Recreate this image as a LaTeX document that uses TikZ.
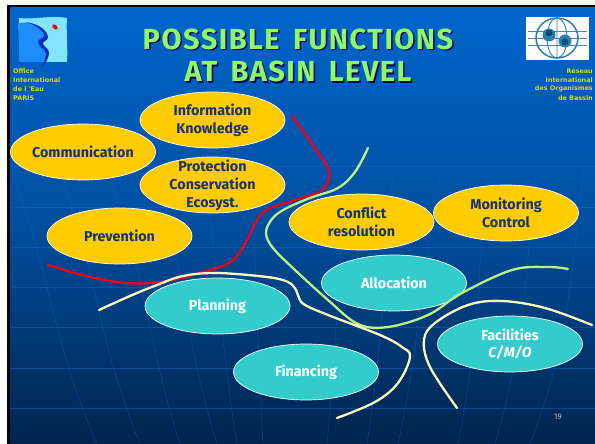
\documentclass[tikz,border=0pt]{standalone}
\usepackage{fontspec}
\setmainfont{Fira Sans}
\newfontfamily\smallfont{DejaVu Sans}
\newfontfamily\titlefont[LetterSpace=5,WordSpace=1.6]{Fira Sans}
\usetikzlibrary{shapes.geometric}
\definecolor{bgtop}{RGB}{0,102,204}
\definecolor{bgbot}{RGB}{0,36,76}
\definecolor{bgmid}{RGB}{0,78,158}
\definecolor{ovalyellow}{RGB}{255,204,0}
\definecolor{ovalteal}{RGB}{51,204,204}
\definecolor{inkblue}{RGB}{22,52,112}
\definecolor{titlegreen}{RGB}{144,248,104}
\definecolor{smallyellow}{RGB}{222,222,0}
\definecolor{curvered}{RGB}{245,0,20}
\definecolor{curvegreen}{RGB}{190,240,130}
\definecolor{curvecream}{RGB}{255,250,190}
\definecolor{gridblue}{RGB}{20,100,205}
\definecolor{logolight}{RGB}{130,228,255}
\definecolor{logomid}{RGB}{30,140,250}
\definecolor{logodark}{RGB}{10,50,190}
\definecolor{globeteal}{RGB}{40,130,170}
\definecolor{globedark}{RGB}{20,70,130}
\tikzset{
  oval/.style={ellipse,draw=white,line width=.7pt,minimum width=145pt,minimum height=56pt,inner sep=-15pt,align=center,font=\bfseries\fontsize{14.3}{17.8}\selectfont},
  yoval/.style={oval,fill=ovalyellow,text=inkblue},
  toval/.style={oval,fill=ovalteal,text=white},
  divider/.style={line width=2.3pt,line cap=round,line join=round},
  gridline/.style={draw=gridblue,line width=.5pt,opacity=.5},
  titletext/.style={font=\titlefont\bfseries\fontsize{29}{32.5}\selectfont,align=center},
  smalltext/.style={font=\smallfont\bfseries\fontsize{6.4}{9}\selectfont,text=smallyellow,inner sep=0pt}
}
\begin{document}
\begin{tikzpicture}[x=1pt,y=-1pt]
\useasboundingbox (0,0) rectangle (595,444);
\fill[white] (0,0) rectangle (595,444);
\fill[black] (7,5) rectangle (595,444);
\fill[top color=bgtop,bottom color=bgbot,middle color=bgmid] (10,8) rectangle (595,444);
% grid
\begin{scope}
\clip (10,8) rectangle (595,444);
\foreach \yy in {166,207,247,287,327,368,408}{\draw[gridline] (10,\yy) -- (595,\yy);}
\foreach \a/\b/\c in {38/52/97,82/98/140,125/147/180,170/185/217,212/220/237,255/257/263,343/337/327,385/383/367,428/420/398,470/478/458,515/525/495,558/570/530}{
  \draw[gridline] (\a+.1*\a-.1*300,170) .. controls (\b,280) and (\b,340) .. (\c,444);
}
\end{scope}
% left logo
\fill[logolight] (19,18) .. controls (32,20) and (50,15) .. (67,18) .. controls (66,32) and (68,48) .. (67,62) -- (42,62) .. controls (35,62) and (25,61) .. (19,62) .. controls (20,48) and (18,32) .. (19,18) -- cycle;
\fill[logomid] (19,23) .. controls (30,21) and (43,27) .. (46,35) .. controls (47,39) and (39,39) .. (40,43) .. controls (41,46) and (47,48) .. (47,53) .. controls (47,57) and (45,60) .. (44,62) -- (19,62) -- cycle;
\fill[logodark] (25,22) .. controls (36,23) and (47,29) .. (48,37) .. controls (48,41) and (42,41) .. (43,44) .. controls (44,47) and (50,49) .. (49,54) .. controls (48,60) and (45,64) .. (41,68) .. controls (44,62) and (46,58) .. (46,54) .. controls (46,49) and (38,47) .. (38,42) .. controls (38,38) and (45,39) .. (44,35) .. controls (42,29) and (34,24) .. (25,22) -- cycle;
\fill[red] (55,27) ellipse[x radius=3.2,y radius=2,rotate=-45];
% right logo
\fill[white] (526,17) rectangle (589,60);
\draw[globedark!70!white,line width=.8pt] (528,31) -- (587,31) (528,38) -- (587,38) (528,45) -- (587,45);
\draw[globeteal,line width=1.5pt] (557,38) ellipse[x radius=21,y radius=20];
\draw[globeteal,line width=.9pt] (557,18) -- (557,59) (557,38) ellipse[x radius=10,y radius=20];
\fill[globeteal] (549,35) circle[radius=6.5];
\fill[globeteal] (565,41) circle[radius=6.5];
\fill[globedark] (549,33) circle[radius=3.5];
\fill[globedark] (565,42) circle[radius=3.5];
% small captions
\node[smalltext,anchor=west] (ol1) at (13,71) {Office};
\node[smalltext,anchor=west] (ol2) at (13,80) {International};
\node[smalltext,anchor=west] (ol3) at (13,89) {de l 'Eau};
\node[smalltext,anchor=west] (ol4) at (13,98) {PARIS};
\node[smalltext,anchor=east] (or1) at (593,71) {Réseau};
\node[smalltext,anchor=east] (or2) at (593,80) {International};
\node[smalltext,anchor=east] (or3) at (593,89) {des Organismes};
\node[smalltext,anchor=east] (or4) at (593,98) {de Bassin};
% title
\node[titletext,text=black!70!blue] (titleshadow) at (299.5,57) {POSSIBLE FUNCTIONS\\AT BASIN LEVEL};
\node[titletext,text=titlegreen] (title) at (298,55.5) {POSSIBLE FUNCTIONS\\AT BASIN LEVEL};
% ovals
\node[yoval] (info) at (212.5,120) {Information\\Knowledge};
\node[yoval] (comm) at (83,152) {Communication};
\node[yoval] (prot) at (212.5,185) {Protection\\Conservation\\Ecosyst.};
\node[yoval] (prev) at (119.5,236) {Prevention};
\node[toval] (plan) at (217.5,306) {Planning};
\node[toval] (fin) at (306,372) {Financing};
\node[toval] (alloc) at (394,283) {Allocation};
\node[toval] (fac) at (510,344) {Facilities\\\textit{C/M/O}};
% dividers
\draw[divider,curvered] plot[smooth,tension=.6] coordinates {(292,116) (315,148) (329,172) (322,190) (295,200) (268,209) (257,220) (248,238) (232,261) (200,273) (160,282) (127,283) (90,277) (48,265)};
\draw[divider,curvegreen] plot[smooth,tension=.6] coordinates {(368,148) (355,172) (338,188) (310,198) (285,209) (272,219) (266,233) (273,248) (295,270) (328,300) (358,324) (388,327) (428,315) (462,293) (512,270) (548,267) (568,269)};
\draw[divider,curvecream] plot[smooth,tension=.6] coordinates {(99,310) (130,296) (157,285) (183,276) (217,273) (267,277) (288,282) (296,290) (299,298) (305,305) (328,315) (380,335) (402,347) (410,357) (398,383) (375,402) (337,418)};
\draw[divider,curvecream] plot[smooth,tension=.6] coordinates {(592,325) (545,308) (502,301) (468,305) (435,323) (424,340) (430,367) (457,408)};
% ovals above the lines
\node[yoval] (conf) at (361.5,222) {Conflict\\resolution};
\node[yoval] (moni) at (506,213) {Monitoring\\Control};
% page number
\node[font=\fontsize{8}{9}\selectfont,text=black!25!white,inner sep=0pt] (page) at (558,417) {19};
\end{tikzpicture}
\end{document}
